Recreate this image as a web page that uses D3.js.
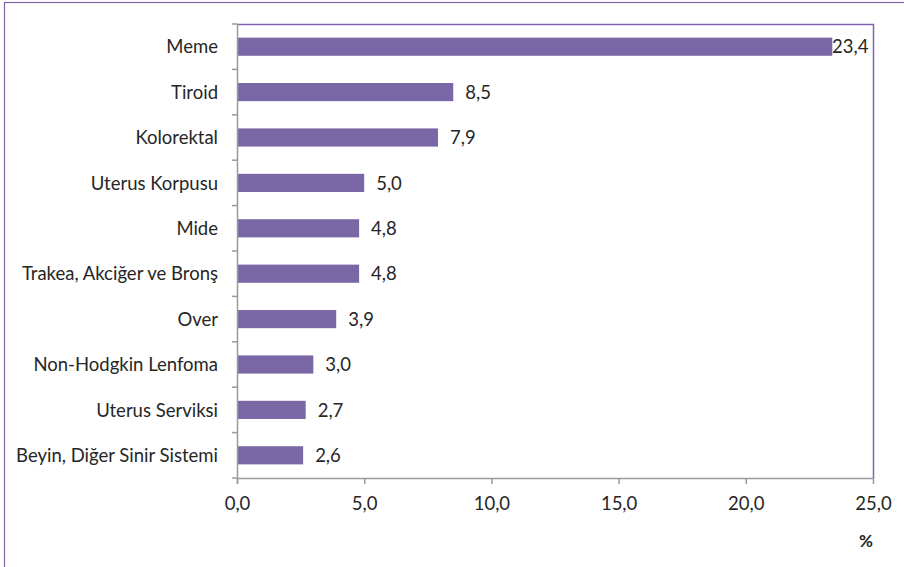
<!DOCTYPE html>
<html><head><meta charset="utf-8">
<script src="https://cdn.jsdelivr.net/npm/d3@7/dist/d3.min.js"></script>
<style>body{margin:0;background:#fff}svg{display:block}text{font-family:Lato,"Open Sans",sans-serif;fill:#262626}</style>
</head><body><svg id="c" width="904" height="567"></svg>
<script>
const categories = ["Meme","Tiroid","Kolorektal","Uterus Korpusu","Mide","Trakea, Akciğer ve Bronş","Over","Non-Hodgkin Lenfoma","Uterus Serviksi","Beyin, Diğer Sinir Sistemi"];
const values = [23.4,8.5,7.9,5.0,4.8,4.8,3.9,3.0,2.7,2.6];
const xTicks = [0,5,10,15,20,25];
const axisUnit = "%";

const svg = d3.select("#c");
const fmt = v => v.toFixed(1).replace(".", ",");
const L = 237, R = 873, T = 24, B = 478;
const FS = 18.5;
const x = d3.scaleLinear().domain([0,25]).range([L,R]);
const y = d3.scaleBand().domain(categories).range([T,B]).paddingInner(0.6).paddingOuter(0.3);
const yEdges = d3.scaleLinear().domain([0,categories.length]).range([T,B]);

// outer frame
svg.append("rect").attr("x",4.5).attr("y",2.5).attr("width",1000).attr("height",1000)
  .attr("fill","none").attr("stroke","#8064a2").attr("stroke-width",1.2);

// plot area border (top & right)
svg.append("path").attr("d",`M${L},${T+0.5}H${R+0.5}V${B}`).attr("fill","none").attr("stroke","#7f62b3").attr("stroke-width",1.5);

// bars
svg.append("g").selectAll("rect").data(values).join("rect")
  .attr("x",x(0)).attr("y",(d,i)=>y(categories[i]))
  .attr("width",d=>x(d)-x(0)).attr("height",y.bandwidth())
  .attr("fill","#7a67a6");

// value labels
svg.append("g").selectAll("text").data(values).join("text")
  .attr("x",d=>Math.min(x(d)+12, x(25)-41))
  .attr("y",(d,i)=>y(categories[i])+y.bandwidth()/2)
  .attr("dy","0.36em").attr("font-size",FS).text(fmt);

// y axis
const ya = svg.append("g");
ya.append("line").attr("x1",L+0.5).attr("x2",L+0.5).attr("y1",T).attr("y2",B+6).attr("stroke","#9a9a9a").attr("stroke-width",1.5);
ya.selectAll("line.t").data(d3.range(categories.length+1)).join("line").attr("class","t")
  .attr("x1",L-5).attr("x2",L).attr("y1",d=>yEdges(d)).attr("y2",d=>yEdges(d)).attr("stroke","#9a9a9a").attr("stroke-width",1.5);
ya.selectAll("text").data(categories).join("text")
  .attr("x",218).attr("y",d=>y(d)+y.bandwidth()/2).attr("dy","0.36em")
  .attr("text-anchor","end").attr("font-size",FS).text(d=>d);

// x axis
const xa = svg.append("g").attr("transform",`translate(0,${B})`)
  .call(d3.axisBottom(x).tickValues(xTicks).tickFormat(fmt).tickSize(6).tickSizeOuter(0));
xa.select(".domain").attr("stroke","#9a9a9a").attr("stroke-width",1.5);
xa.selectAll(".tick line").attr("stroke","#9a9a9a").attr("stroke-width",1.5);
xa.selectAll(".tick text").attr("font-size",FS).attr("font-family","Lato,sans-serif").attr("fill","#262626")
  .attr("y",32).attr("dy",0);

svg.append("text").attr("x",866).attr("y",547).attr("text-anchor","middle")
  .attr("font-size",17).attr("font-weight","bold").text(axisUnit);
</script></body></html>
